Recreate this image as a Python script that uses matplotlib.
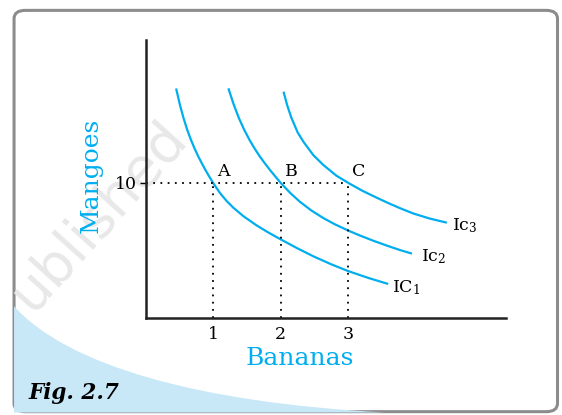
import numpy as np
import matplotlib.pyplot as plt
from matplotlib.patches import FancyBboxPatch, PathPatch
from matplotlib.path import Path

# Curvas de indiferença
ic1_x = [0.452, 0.507, 0.562, 0.616, 0.671, 0.726, 0.781, 0.836, 0.890, 0.945, 1.0,
         1.1, 1.2, 1.3, 1.45, 1.645, 1.82, 2.0, 2.25, 2.49, 2.75, 3.0, 3.3, 3.59]
ic1_y = [17.0, 15.81, 14.80, 13.94, 13.20, 12.54, 11.95, 11.42, 10.92, 10.45, 10.0,
         9.26, 8.66, 8.16, 7.53, 6.85, 6.32, 5.82, 5.15, 4.55, 3.97, 3.47, 2.96, 2.52]

ic2_x = [1.225, 1.303, 1.38, 1.458, 1.535, 1.613, 1.69, 1.768, 1.845, 1.923, 2.0,
         2.14, 2.28, 2.45, 2.63, 2.8, 3.0, 3.18, 3.37, 3.57, 3.765, 3.94]
ic2_y = [17.01, 15.82, 14.81, 13.95, 13.21, 12.55, 11.96, 11.43, 10.93, 10.46, 10.0,
         9.26, 8.62, 7.97, 7.4, 6.94, 6.47, 6.09, 5.72, 5.36, 5.03, 4.77]

ic3_x = [2.04, 2.10, 2.16, 2.25, 2.334, 2.48, 2.63, 2.82, 3.0, 3.2, 3.41, 3.6,
         3.765, 3.96, 4.2, 4.456]
ic3_y = [16.76, 15.67, 14.79, 13.74, 13.06, 12.07, 11.33, 10.55, 10.0, 9.44, 8.93, 8.49,
         8.13, 7.74, 7.37, 7.06]

pontos = ['A', 'B', 'C']
bananas = [1, 2, 3]
mangas = 10

azul = '#00aeef'
fonte = 'DejaVu Serif'
plt.rcParams['mathtext.fontset'] = 'dejavuserif'

fig = plt.figure(figsize=(5.62, 4.15), dpi=100)

# moldura arredondada
moldura = FancyBboxPatch((0.025, 0.008), 0.967, 0.967, boxstyle='round,pad=0,rounding_size=0.02',
                         transform=fig.transFigure, facecolor='white', edgecolor='#8c8c8c',
                         linewidth=2.2, zorder=0)
fig.patches.append(moldura)

# faixa azul clara no canto inferior
verts = [(0.025, 0.262), (0.12, 0.12), (0.35, 0.03), (0.685, 0.006),
         (0.025, 0.006), (0.025, 0.262)]
codes = [Path.MOVETO, Path.CURVE4, Path.CURVE4, Path.CURVE4, Path.LINETO, Path.CLOSEPOLY]
fig.patches.append(PathPatch(Path(verts, codes), transform=fig.transFigure,
                             facecolor='#c8e8f8', edgecolor='none', zorder=0.5))

# marca d'água
fig.text(0.175, 0.48, 'ublished', rotation=48, fontsize=40, color='#e8e8e8',
         ha='center', va='center', zorder=0.6)

ax = fig.add_axes([0.259, 0.2337, 0.6406, 0.67])
ax.set_zorder(1)
ax.patch.set_alpha(0)
ax.set_xlim(0, 5.325)
ax.set_ylim(0, 20.59)
for lado in ['top', 'right']:
    ax.spines[lado].set_visible(False)
for lado in ['left', 'bottom']:
    ax.spines[lado].set_linewidth(1.8)
    ax.spines[lado].set_color('#222222')

for cx, cy in [(ic1_x, ic1_y), (ic2_x, ic2_y), (ic3_x, ic3_y)]:
    ax.plot(cx, cy, color=azul, lw=1.6, solid_joinstyle='round', solid_capstyle='butt')

# linhas pontilhadas
ax.plot([0, bananas[-1]], [mangas, mangas], color='black', lw=1.3, ls=(0, (1, 3)))
for b in bananas:
    ax.plot([b, b], [0, mangas], color='black', lw=1.3, ls=(0, (1, 3)))

for p, b in zip(pontos, bananas):
    ax.text(b + 0.06, mangas + 0.2, p, fontsize=12.5, family=fonte, ha='left', va='bottom')

ax.text(ic1_x[-1] + 0.05, ic1_y[-1] - 0.25, 'IC$_1$', fontsize=12.5, family=fonte, va='center')
ax.text(ic2_x[-1] + 0.13, ic2_y[-1] - 0.2, 'Ic$_2$', fontsize=12.5, family=fonte, va='center')
ax.text(ic3_x[-1] + 0.08, ic3_y[-1] - 0.25, 'Ic$_3$', fontsize=12.5, family=fonte, va='center')

ax.set_xticks(bananas)
ax.set_xticklabels([str(b) for b in bananas], family=fonte, fontsize=12.5)
ax.set_yticks([mangas])
ax.set_yticklabels([str(mangas)], family=fonte, fontsize=12.5)
ax.tick_params(axis='x', length=0, pad=6)
ax.tick_params(axis='y', length=4, width=1, pad=2)

ax.set_xlabel('Bananas', color=azul, family=fonte, fontsize=18)
ax.xaxis.set_label_coords(0.428, -0.105)
ax.set_ylabel('Mangoes', color=azul, family=fonte, fontsize=18)
ax.yaxis.set_label_coords(-0.118, 0.514)

fig.text(0.05, 0.053, 'Fig. 2.7', family=fonte, fontsize=15.5, fontweight='bold',
         fontstyle='italic', ha='left', va='center')

fig.savefig('out.png', dpi=100)
